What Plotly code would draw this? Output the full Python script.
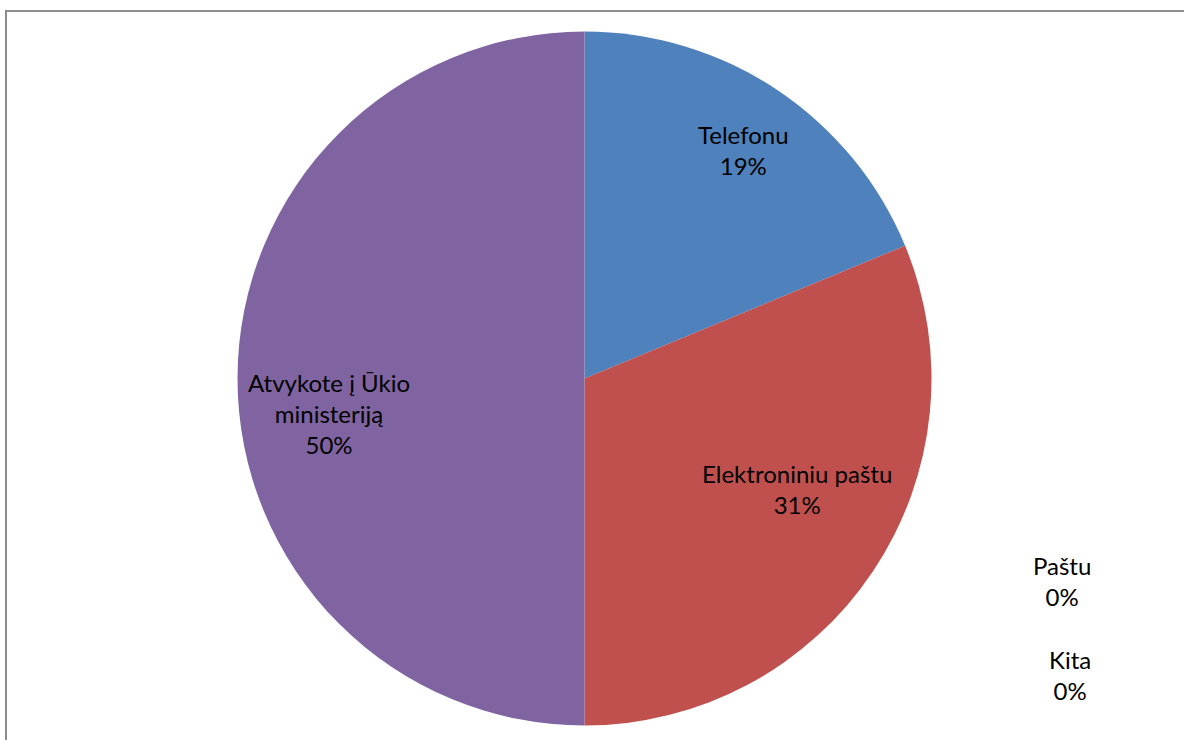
import plotly.graph_objects as go

labels = ["Telefonu", "Elektroniniu paštu", "Paštu", "Kita", "Atvykote į Ūkio ministeriją"]
display_labels = ["Telefonu", "Elektroniniu paštu", "Paštu", "Kita", "Atvykote į Ūkio<br>ministeriją"]
values = [3, 5, 0, 0, 8]
colors = ["#4F81BD", "#C0504D", "#9BBB59", "#4BACC6", "#8064A2"]

total = sum(values)

W, H = 1184, 740
cx, cy, R = 584.5, 378.5, 347

fig = go.Figure(go.Pie(
    labels=labels,
    values=values,
    textinfo="none",
    sort=False,
    direction="clockwise",
    rotation=0,
    marker=dict(colors=colors, line=dict(width=0)),
    showlegend=False,
    hoverinfo="label+percent",
    domain=dict(x=[(cx - R) / W, (cx + R) / W], y=[1 - (cy + R) / H, 1 - (cy - R) / H]),
))

# data label placement (pixel centres of each label block, Excel "best fit" style)
label_pos = [(743, 150), (797, 489), (1062, 581), (1070, 675), (329, 413)]
for d, v, (x, y) in zip(display_labels, values, label_pos):
    fig.add_annotation(
        x=x / W, y=1 - y / H, xref="paper", yref="paper",
        xanchor="center", yanchor="middle",
        text=f"{d}<br>{round(100 * v / total)}%", showarrow=False,
        font=dict(family="Lato", size=24, color="#000000"),
        align="center",
    )

fig.add_shape(type="rect", xref="paper", yref="paper",
              x0=6 / W, x1=1.05, y0=-0.05, y1=1 - 11 / H,
              line=dict(color="#8C8C8C", width=2), fillcolor="rgba(0,0,0,0)")

fig.update_layout(
    width=W, height=H,
    margin=dict(l=0, r=0, t=0, b=0),
    paper_bgcolor="#FFFFFF",
    plot_bgcolor="#FFFFFF",
)

fig.write_html("out.html", config={"displayModeBar": False},
               post_script="document.body.style.margin='0';document.body.style.padding='0';")
